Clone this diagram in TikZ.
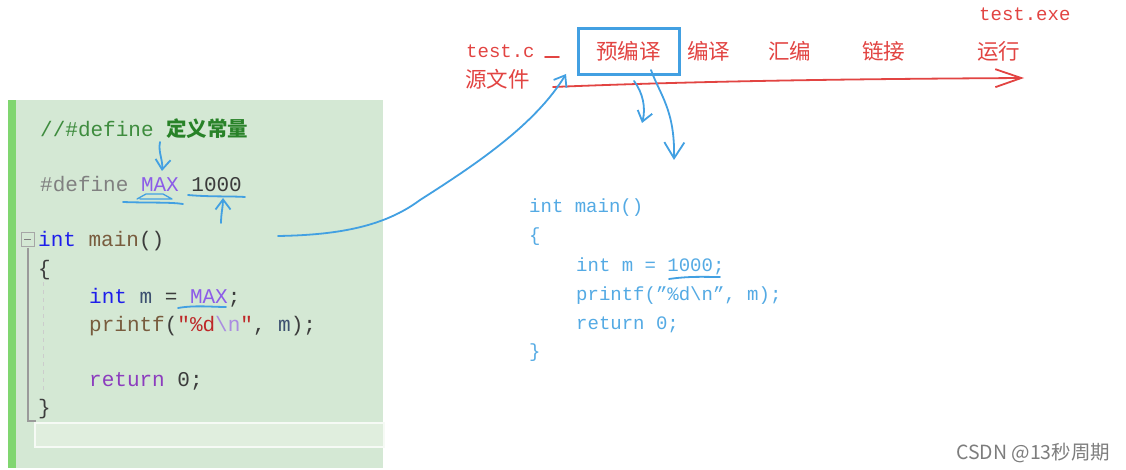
\documentclass[tikz,border=0pt]{standalone}
\usepackage{fontspec}
\usetikzlibrary{arrows.meta}
\newfontfamily\monof{Liberation Mono}
\newfontfamily\cjkf{Noto Sans CJK SC}
\definecolor{redtxt}{RGB}{226,68,66}
\definecolor{bluean}{RGB}{66,160,226}
\definecolor{bluecode}{RGB}{84,170,228}
\definecolor{panel}{RGB}{212,232,212}
\definecolor{panelbar}{RGB}{128,214,112}
\definecolor{hilite}{RGB}{224,238,222}
\definecolor{cmtgreen}{RGB}{62,140,62}
\definecolor{cmtbold}{RGB}{40,130,40}
\definecolor{pregray}{RGB}{128,128,128}
\definecolor{macro}{RGB}{140,92,232}
\definecolor{kwblue}{RGB}{30,30,235}
\definecolor{fnbrown}{RGB}{120,92,62}
\definecolor{kwpurple}{RGB}{140,60,190}
\definecolor{strred}{RGB}{190,40,40}
\definecolor{escpurple}{RGB}{170,140,225}
\definecolor{varslate}{RGB}{60,80,112}
\definecolor{numdark}{RGB}{60,60,60}
\definecolor{wmgray}{RGB}{125,125,125}
\tikzset{
  lcode/.style={anchor=base west, inner sep=0pt, font=\monof\fontsize{21}{25}\selectfont, text=numdark},
  rcode/.style={anchor=base west, inner sep=0pt, font=\monof\fontsize{19}{22}\selectfont, text=bluecode},
  redmono/.style={anchor=base west, inner sep=0pt, font=\monof\fontsize{19}{22}\selectfont, text=redtxt},
  redcjk/.style={anchor=base west, inner sep=0pt, font=\cjkf\fontsize{21.5}{24}\selectfont, text=redtxt},
  pen/.style={draw=bluean, line width=1.8pt, line cap=round, line join=round},
  penarrow/.style={pen, -{Straight Barb[length=10pt, width=15pt, line width=1.8pt]}},
  bigpenarrow/.style={pen, -{Straight Barb[length=16pt, width=20pt, line width=1.8pt]}},
  redpen/.style={draw=redtxt, line width=1.8pt, line cap=round},
}
\begin{document}
\begin{tikzpicture}[x=1pt, y=-1pt]
\useasboundingbox[fill=white] (0,0) rectangle (1126,470);
% code panel
\fill[panel] (8,100) rectangle (383,468);
\fill[panelbar] (8,100) rectangle (16,468);
\draw[white!70!hilite, line width=1.5pt, fill=hilite] (35,423) rectangle (384,447);
\draw[pregray!70, line width=1pt] (21,233) rectangle (34,247);
\draw[pregray, line width=1pt] (24,240) -- (31,240);
\draw[pregray!80, line width=1.2pt] (28,248) -- (28,421) -- (36,421);
\draw[pregray!40, line width=0.8pt, dash pattern=on 4pt off 4pt] (43,282) -- (43,392);
% left code
\node[lcode] (c1) at (40,137) {\textcolor{cmtgreen}{//\#define} {\cjkf\bfseries\fontsize{20.5}{24}\selectfont\textcolor{cmtbold}{定义常量}}};
\node[lcode] (c2) at (40,192) {\textcolor{pregray}{\#define} \textcolor{macro}{MAX} 1000};
\node[lcode] (c3) at (38,247) {\textcolor{kwblue}{int} \textcolor{fnbrown}{main}()};
\node[lcode] (c4) at (38,275) {\{};
\node[lcode] (c5) at (89,303) {\textcolor{kwblue}{int} \textcolor{varslate}{m} = \textcolor{macro}{MAX};};
\node[lcode] (c6) at (89,331) {\textcolor{fnbrown}{printf}(\textcolor{strred}{"\%d}\textcolor{escpurple}{\textbackslash n}\textcolor{strred}{"}, \textcolor{varslate}{m});};
\node[lcode] (c7) at (89,386) {\textcolor{kwpurple}{return} 0;};
\node[lcode] (c8) at (38,414) {\}};
% right code
\node[rcode] (r1) at (529,213) {int main()};
\node[rcode] (r2) at (529,241) {\{};
\node[rcode] (r3) at (576,271) {int m = 1000;};
\node[rcode] (r4) at (576,300) {printf(”\%d\textbackslash n”, m);};
\node[rcode] (r5) at (576,329) {return 0;};
\node[rcode] (r6) at (529,357) {\}};
% red labels
\node[redmono] (src) at (466,58) {test.c};
\node[redcjk] (srccn) at (465,88) {源文件};
\node[redmono] (exe) at (979,21) {test.exe};
\node[redcjk] (pre) at (596,60) {预编译};
\node[redcjk] (comp) at (687,60) {编译};
\node[redcjk] (asm) at (768,60) {汇编};
\node[redcjk] (link) at (862,60) {链接};
\node[redcjk] (run) at (977,60) {运行};
\node[draw=bluean, line width=2.4pt, minimum width=101pt, minimum height=46pt, inner sep=0pt] (prebox) at (629,51.5) {};
% red pipeline arrow
\coordinate (rs) at (553,87);
\coordinate (re) at (1024,78);
\draw[redpen] (545,57) -- (559,57);
\draw[redpen, -{Straight Barb[length=26pt, width=18pt, line width=1.8pt]}] (rs) .. controls (700,81) and (850,79) .. (re);
% blue annotations
\coordinate (a1s) at (160,142);
\coordinate (a1e) at (162,171);
\draw[penarrow] (a1s) .. controls (158,152) and (163,160) .. (a1e);
\draw[pen] (123,202) .. controls (150,203) and (170,202) .. (183,204);
\draw[pen, line width=1.3pt] (137,199) -- (146,194) -- (163,194) -- (172,199) -- (140,199);
\draw[pen] (188,195) .. controls (210,197) and (230,196) .. (245,197);
\coordinate (a2s) at (221,223);
\coordinate (a2e) at (223,198);
\draw[penarrow] (a2s) .. controls (221,214) and (223,206) .. (a2e);
\draw[pen] (178,308) .. controls (195,305) and (212,307) .. (226,307);
\coordinate (a3s) at (278,236);
\coordinate (a3e) at (566,74);
\draw[penarrow] (a3s) .. controls (340,235) and (385,226) .. (420,200) .. controls (475,165) and (535,125) .. (a3e);
\coordinate (a4s) at (634,81);
\coordinate (a4e) at (642,123);
\draw[penarrow] (a4s) .. controls (643,93) and (646,108) .. (a4e);
\coordinate (a5s) at (651,70);
\coordinate (a5e) at (674,160);
\draw[bigpenarrow] (a5s) .. controls (660,95) and (675,110) .. (a5e);
\draw[pen] (669,279) .. controls (690,276) and (705,277) .. (720,277);
% watermark
\node[anchor=base west, inner sep=0pt, font=\cjkf\fontsize{19.5}{22}\selectfont, text=wmgray] (wm) at (956,459) {CSDN @13秒周期};
\end{tikzpicture}
\end{document}
